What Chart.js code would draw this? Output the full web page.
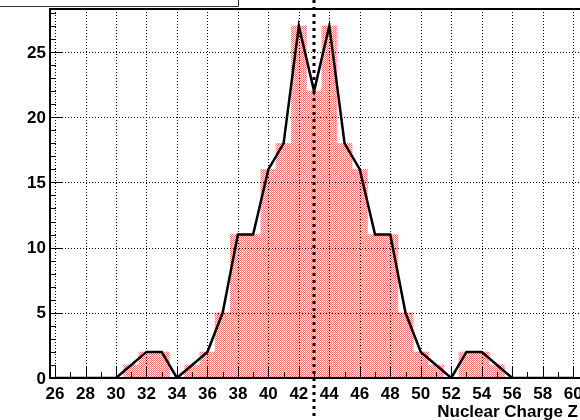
<!DOCTYPE html>
<html>
<head>
<meta charset="utf-8">
<script src="https://cdn.jsdelivr.net/npm/chart.js@4/dist/chart.umd.min.js"></script>
<style>
  html, body { margin: 0; padding: 0; background: #fff; }
  canvas { display: block; }
</style>
</head>
<body>
<canvas id="myChart" width="580" height="420"></canvas>
<script>
// histogram content, one entry per unit bin of Z
var chargeZ = [26,27,28,29,30,31,32,33,34,35,36,37,38,39,40,41,42,43,
               44,45,46,47,48,49,50,51,52,53,54,55,56,57,58,59,60];
var counts  = [0,0,0,0,0,1,2,2,0,1,2,5,11,11,16,18,27,22,
               27,18,16,11,11,5,2,1,0,2,2,1,0,0,0,0,0];
var xTickLabels = [26,28,30,32,34,36,38,40,42,44,46,48,50,52,54,56,58,60];
var yTickLabels = [0,5,10,15,20,25];
var markerZ = 43;

const X_MIN = 25.67;
const X_MAX = 60.45;
const Y_MAX = 28.3;
const LABEL_FONT = 'bold 17px "Liberation Sans", Arial, sans-serif';

function makeCheckerPattern(){
  var c = document.createElement('canvas');
  c.width = 2; c.height = 2;
  var g = c.getContext('2d');
  g.fillStyle = 'rgb(255,248,248)';
  g.fillRect(0, 0, 2, 2);
  g.fillStyle = 'rgb(226,122,122)';
  g.fillRect(0, 0, 1, 1);
  g.fillRect(1, 1, 1, 1);
  return g.createPattern(c, 'repeat');
}

var points = chargeZ.map(function(z, i){ return {x: z, y: counts[i]}; });

// grid goes over the filled bins but under the black curve
var gridPlugin = {
  id: 'rootGrid',
  afterDatasetDraw: function(chart, args){
    if (args.index !== 0) return;
    var ctx = chart.ctx, area = chart.chartArea;
    var xs = chart.scales.x, ys = chart.scales.y;
    ctx.save();
    ctx.strokeStyle = '#000';
    ctx.lineWidth = 1;
    ctx.setLineDash([1, 2]);
    xTickLabels.forEach(function(v){
      var px = Math.round(xs.getPixelForValue(v)) + 0.5;
      ctx.beginPath(); ctx.moveTo(px, area.top); ctx.lineTo(px, area.bottom); ctx.stroke();
    });
    yTickLabels.forEach(function(v){
      if (v === 0) return;
      var py = Math.round(ys.getPixelForValue(v)) + 0.5;
      ctx.beginPath(); ctx.moveTo(area.left, py); ctx.lineTo(area.right, py); ctx.stroke();
    });
    ctx.restore();
  }
};

var framePlugin = {
  id: 'rootFrame',
  afterDraw: function(chart){
    var ctx = chart.ctx, area = chart.chartArea;
    var xs = chart.scales.x, ys = chart.scales.y;
    ctx.save();
    ctx.strokeStyle = '#000';

    // tick marks, drawn inside the frame
    ctx.lineWidth = 1;
    for (var z = Math.ceil(X_MIN); z <= X_MAX; z++){
      var len = xTickLabels.indexOf(z) >= 0 ? 12 : 6;
      var px = Math.round(xs.getPixelForValue(z)) + 0.5;
      ctx.beginPath(); ctx.moveTo(px, area.bottom); ctx.lineTo(px, area.bottom - len); ctx.stroke();
    }
    for (var n = 0; n <= Y_MAX; n++){
      var ylen = yTickLabels.indexOf(n) >= 0 ? 13 : 6;
      var py = Math.round(ys.getPixelForValue(n)) + 0.5;
      ctx.beginPath(); ctx.moveTo(area.left, py); ctx.lineTo(area.left + ylen, py); ctx.stroke();
    }

    // frame
    ctx.lineWidth = 2;
    ctx.beginPath();
    ctx.moveTo(area.right + 2, area.top);
    ctx.lineTo(area.left, area.top);
    ctx.lineTo(area.left, area.bottom);
    ctx.lineTo(area.right + 2, area.bottom);
    ctx.stroke();

    // tick labels
    ctx.fillStyle = '#000';
    ctx.font = LABEL_FONT;
    ctx.textAlign = 'center';
    ctx.textBaseline = 'top';
    xTickLabels.forEach(function(v){
      ctx.fillText(String(v), xs.getPixelForValue(v), area.bottom + 8);
    });
    ctx.textAlign = 'right';
    ctx.textBaseline = 'middle';
    yTickLabels.forEach(function(v){
      ctx.fillText(String(v), area.left - 4, ys.getPixelForValue(v) + 1);
    });

    // axis title
    ctx.textAlign = 'right';
    ctx.textBaseline = 'alphabetic';
    ctx.fillText('Nuclear Charge Z', 578, 417);

    // dashed marker
    var mx = Math.round(xs.getPixelForValue(markerZ));
    ctx.lineWidth = 3;
    ctx.setLineDash([3, 4]);
    ctx.beginPath(); ctx.moveTo(mx, 0); ctx.lineTo(mx, chart.height); ctx.stroke();

    // corner of the title box
    ctx.setLineDash([]);
    ctx.lineWidth = 1;
    ctx.strokeStyle = '#333';
    ctx.strokeRect(-2, -2, 240.5, 8.5);
    ctx.restore();
  }
};

var ctx = document.querySelector('#myChart');
var chargeChart = new Chart(ctx, {
  data: {
    datasets: [
      {
        type: 'bar',
        data: points,
        backgroundColor: makeCheckerPattern(),
        borderWidth: 0,
        barPercentage: 1,
        categoryPercentage: 1,
        order: 2
      },
      {
        type: 'line',
        data: points,
        borderColor: '#000',
        borderWidth: 2.5,
        pointRadius: 0,
        tension: 0,
        fill: false,
        order: 1
      }
    ]
  },
  options: {
    responsive: false,
    animation: false,
    layout: { padding: { top: 9, right: 0, left: 0, bottom: 0 } },
    plugins: { legend: { display: false }, tooltip: { enabled: false } },
    scales: {
      x: {
        type: 'linear',
        min: X_MIN,
        max: X_MAX,
        offset: false,
        grid: { display: false, drawTicks: false, offset: false },
        border: { display: false },
        ticks: { display: false },
        afterFit: function(scale){ scale.height = 42; }
      },
      y: {
        min: 0,
        max: Y_MAX,
        grid: { display: false, drawTicks: false },
        border: { display: false },
        ticks: { display: false },
        afterFit: function(scale){ scale.width = 50; }
      }
    }
  },
  plugins: [gridPlugin, framePlugin]
});
</script>
</body>
</html>
